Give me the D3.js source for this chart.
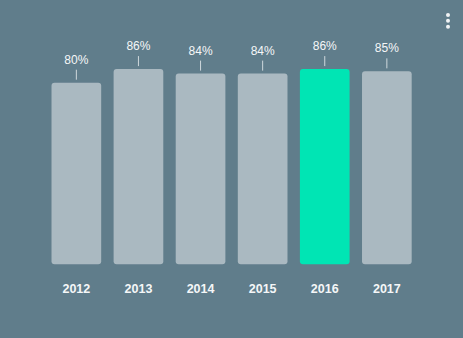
<!DOCTYPE html>
<html>
<head>
<meta charset="utf-8">
<script src="https://cdn.jsdelivr.net/npm/d3@7"></script>
<style>
html, body { margin: 0; padding: 0; background: #607d8b; }
svg { display: block; }
</style>
</head>
<body>
<svg id="chart" width="463" height="338"></svg>
<script>
const years = ["2012", "2013", "2014", "2015", "2016", "2017"];
const values = [80, 86, 84, 84, 86, 85];
const highlightYear = "2016";

const W = 463, H = 338;
const svg = d3.select("#chart");

svg.append("rect").attr("width", W).attr("height", H).attr("fill", "#607d8b");

const x = d3.scaleBand().domain(years).range([45.3, 417.9]).paddingInner(0.2).paddingOuter(0.1);
const y = d3.scaleLinear().domain([0, 100]).range([264.3, 37.3]);

const data = years.map((yr, i) => ({ year: yr, value: values[i] }));

svg.append("g").selectAll("rect").data(data).join("rect")
  .attr("x", d => x(d.year))
  .attr("y", d => y(d.value))
  .attr("width", x.bandwidth())
  .attr("height", d => y(0) - y(d.value))
  .attr("rx", 3).attr("ry", 3)
  .attr("fill", d => d.year === highlightYear ? "#00e5b4" : "#aab9c1");

svg.append("g").selectAll("line").data(data).join("line")
  .attr("x1", d => x(d.year) + x.bandwidth() / 2)
  .attr("x2", d => x(d.year) + x.bandwidth() / 2)
  .attr("y1", d => y(d.value) - 13)
  .attr("y2", d => y(d.value) - 3)
  .attr("stroke", "#cfd8dc").attr("stroke-width", 1);

svg.append("g").selectAll("text").data(data).join("text")
  .attr("x", d => x(d.year) + x.bandwidth() / 2)
  .attr("y", d => y(d.value) - 19)
  .attr("text-anchor", "middle")
  .attr("font-family", "Arial, 'Liberation Sans', sans-serif")
  .attr("font-size", 12)
  .attr("fill", "#f5f7f8")
  .text(d => d.value + "%");

const xAxis = svg.append("g").attr("transform", "translate(0,264.3)")
  .call(d3.axisBottom(x).tickSize(0).tickPadding(20));
xAxis.select(".domain").remove();
xAxis.selectAll("text")
  .attr("font-family", "Arial, 'Liberation Sans', sans-serif")
  .attr("font-size", 12.5)
  .attr("font-weight", "bold")
  .attr("fill", "#f5f7f8");

// menu dots
const dots = [15, 20.8, 26.7];
svg.append("g").selectAll("circle").data(dots).join("circle")
  .attr("cx", 448).attr("cy", d => d).attr("r", 2)
  .attr("fill", "#f0f3f5");
</script>
</body>
</html>
